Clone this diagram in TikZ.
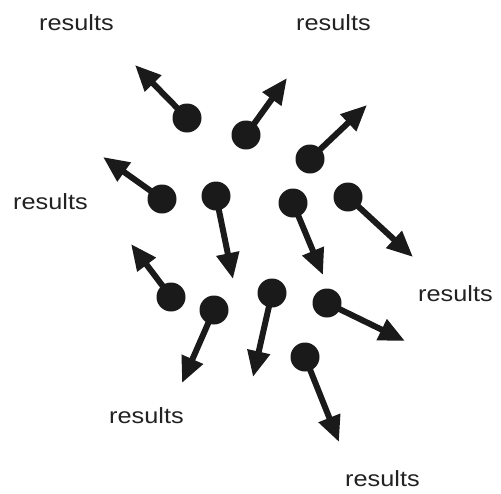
\documentclass[tikz,border=0pt]{standalone}
\usepackage{fontspec}
\setmainfont{Liberation Sans}
\usetikzlibrary{arrows.meta}
\definecolor{ink}{HTML}{1A1A1A}
\definecolor{txt}{HTML}{222222}
\begin{document}
\begin{tikzpicture}[x=1pt,y=-1pt,
  dot/.style={circle,fill=ink,draw=none,minimum size=29pt,inner sep=0pt},
  arr/.style={draw=ink,line width=6pt,-{Triangle[length=26pt,width=22pt]}},
  lbl/.style={anchor=base west,inner sep=0pt,text=txt,font=\fontsize{22}{26}\selectfont}]
\useasboundingbox[fill=white] (0,0) rectangle (501,493);
% labels
\node[lbl] (l1) at (39,30) {\scalebox{1.15}[1]{results}};
\node[lbl] (l2) at (296,30) {\scalebox{1.15}[1]{results}};
\node[lbl] (l3) at (13,209) {\scalebox{1.15}[1]{results}};
\node[lbl] (l4) at (418,301) {\scalebox{1.15}[1]{results}};
\node[lbl] (l5) at (109,423) {\scalebox{1.15}[1]{results}};
\node[lbl] (l6) at (345,486) {\scalebox{1.15}[1]{results}};
% tips
\coordinate (t1) at (135,65);
\coordinate (t2) at (287,78);
\coordinate (t3) at (367,105);
\coordinate (t4) at (103,157);
\coordinate (t5) at (233,279);
\coordinate (t6) at (323,275);
\coordinate (t7) at (413,257);
\coordinate (t8) at (131,244);
\coordinate (t9) at (182,383);
\coordinate (t10) at (253,377);
\coordinate (t11) at (405,341);
\coordinate (t12) at (339,442);
% dots
\node[dot] (d1) at (187,118) {};
\node[dot] (d2) at (246,135) {};
\node[dot] (d3) at (310,159) {};
\node[dot] (d4) at (162,199) {};
\node[dot] (d5) at (216,196) {};
\node[dot] (d6) at (293,203) {};
\node[dot] (d7) at (348,197) {};
\node[dot] (d8) at (171,297) {};
\node[dot] (d9) at (214,310) {};
\node[dot] (d10) at (272,293) {};
\node[dot] (d11) at (327,303) {};
\node[dot] (d12) at (305,357) {};
% arrows
\foreach \i in {1,...,12}{
  \draw[arr] (d\i.center) -- (t\i);
}
\end{tikzpicture}
\end{document}
